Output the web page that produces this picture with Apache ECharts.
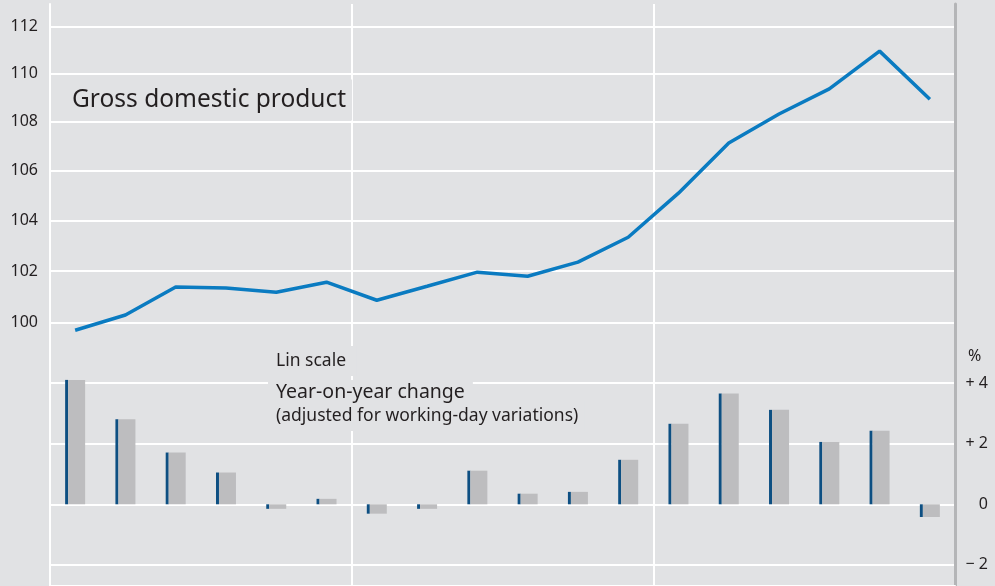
<!DOCTYPE html>
<html>
<head>
<meta charset="utf-8">
<script src="https://cdn.jsdelivr.net/npm/echarts@6.0.0/dist/echarts.min.js"></script>
<style>
  html, body { margin: 0; padding: 0; background: #e1e2e4; }
  #chart { width: 995px; height: 586px; }
</style>
</head>
<body>
<div id="chart"></div>
<script>
// 18 periods, no labels shown on the picture
const periods = ["p1", "p2", "p3", "p4", "p5", "p6", "p7", "p8", "p9",
  "p10", "p11", "p12", "p13", "p14", "p15", "p16", "p17", "p18"];
const gdpIndex = [99.72, 100.30, 101.38, 101.34, 101.18, 101.57, 100.87, 101.41, 101.96,
  101.80, 102.35, 103.33, 105.09, 107.13, 108.32, 109.37, 110.96, 108.94];
const yoyChange = [4.11, 2.81, 1.71, 1.05, -0.15, 0.18, -0.31, -0.15, 1.11,
  0.35, 0.41, 1.47, 2.66, 3.66, 3.12, 2.06, 2.43, -0.42];
const gdpTicks = [100, 102, 104, 106, 108, 110, 112];
const changeTicks = [-2, 0, 2, 4];
const changeLines = [-2, 0, 2, 4, 6];

const bg = "#e1e2e4";
const txt = "#231f20";
const font = "Noto Sans";

function changeLabel(v) {
  if (v > 0) return "+ " + v;
  if (v < 0) return "\u2212 " + Math.abs(v);
  return "0";
}

let option = {
  backgroundColor: bg,
  animation: false,
  grid: [
    { left: 50, right: 40, top: 4, bottom: 0 },
    { left: 50, right: 40, top: 322.7, bottom: 0 },
  ],
  xAxis: [
    {
      type: "category",
      gridIndex: 0,
      data: periods,
      position: "top",
      boundaryGap: true,
      axisLine: { show: true, lineStyle: { color: "#fff", width: 2 } },
      axisTick: { show: false },
      axisLabel: { show: false },
      splitLine: {
        show: true,
        interval: function (i) { return i % 6 === 0; },
        lineStyle: { color: "#fff", width: 2 },
      },
    },
    { type: "category", gridIndex: 1, data: periods, show: false },
  ],
  yAxis: [
    {
      type: "log",
      logBase: 10,
      gridIndex: 0,
      position: "left",
      min: 90.42,
      max: 112.98,
      axisLine: { show: true, lineStyle: { color: "#fff", width: 2 } },
      axisTick: { show: false, customValues: gdpTicks },
      axisLabel: {
        customValues: gdpTicks,
        color: txt,
        fontFamily: font,
        fontSize: 16,
        margin: 12,
      },
      splitLine: { show: true, lineStyle: { color: "#fff", width: 2 } },
    },
    {
      type: "value",
      gridIndex: 0,
      position: "right",
      min: 0,
      max: 1,
      axisLine: { show: true, lineStyle: { color: "#b4b5b7", width: 3 } },
      axisTick: { show: false },
      axisLabel: { show: false },
      splitLine: { show: false },
    },
    {
      type: "value",
      gridIndex: 1,
      position: "right",
      min: -2.7,
      max: 6,
      axisLine: { show: false },
      axisTick: { show: false, customValues: changeLines },
      axisLabel: {
        customValues: changeTicks,
        formatter: changeLabel,
        align: "right",
        margin: 33,
        padding: [3, 0, 0, 0],
        color: txt,
        fontFamily: font,
        fontSize: 16,
      },
      splitLine: { show: true, lineStyle: { color: "#fff", width: 2 } },
    },
  ],
  series: [
    {
      name: "Gross domestic product",
      type: "line",
      xAxisIndex: 0,
      yAxisIndex: 0,
      data: gdpIndex,
      symbol: "none",
      lineStyle: { color: "#0a7bc1", width: 3.5 },
      z: 5,
    },
    {
      name: "edge",
      type: "bar",
      xAxisIndex: 1,
      yAxisIndex: 2,
      data: yoyChange,
      barWidth: 3,
      barGap: 0,
      itemStyle: { color: "#0d4f82" },
    },
    {
      name: "Year-on-year change",
      type: "bar",
      xAxisIndex: 1,
      yAxisIndex: 2,
      data: yoyChange,
      barWidth: 17,
      barGap: 0,
      itemStyle: { color: "#bdbdbf" },
    },
  ],
  graphic: [
    {
      type: "text", x: 62, y: 100, z: 100,
      style: {
        text: "Gross domestic product", font: "24.5px 'Noto Sans'", fill: txt,
        verticalAlign: "middle", backgroundColor: bg, padding: [8, 6, 8, 10],
      },
    },
    {
      type: "text", x: 268, y: 361, z: 100,
      style: {
        text: "Lin scale", font: "17.5px 'Noto Sans'", fill: txt,
        verticalAlign: "middle", backgroundColor: bg, padding: [6, 10, 6, 8],
      },
    },
    {
      type: "text", x: 268, y: 392, z: 100,
      style: {
        text: "Year-on-year change", font: "19.5px 'Noto Sans'", fill: txt,
        verticalAlign: "middle", backgroundColor: bg, padding: [2, 8, 2, 8],
      },
    },
    {
      type: "text", x: 268, y: 416, z: 99,
      style: {
        text: "(adjusted for working-day variations)", font: "17.5px 'Noto Sans'", fill: txt,
        verticalAlign: "middle", backgroundColor: bg, padding: [4, 6, 8, 8],
      },
    },
    {
      type: "text", x: 968, y: 356, z: 100,
      style: { text: "%", font: "16px 'Noto Sans'", fill: txt, verticalAlign: "middle" },
    },
  ],
};

const chart = echarts.init(document.getElementById("chart"));
option && chart.setOption(option);
</script>
</body>
</html>
